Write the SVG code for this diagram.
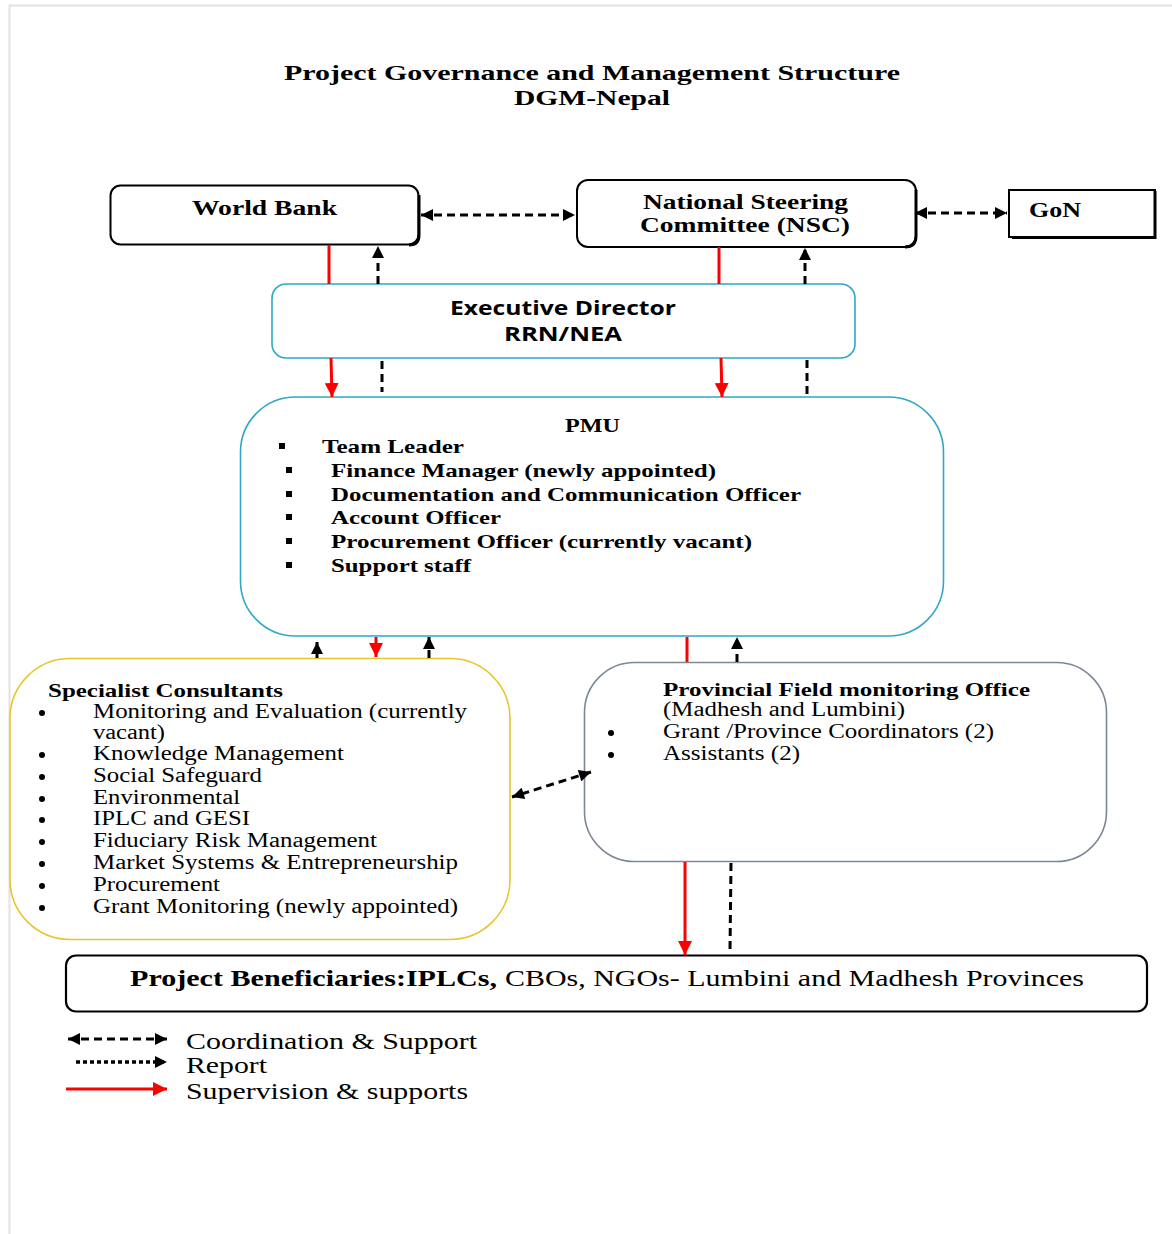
<svg xmlns="http://www.w3.org/2000/svg" width="1172" height="1234" viewBox="0 0 1172 1234">
<style>
.serif{font-family:"Liberation Serif","Times New Roman",serif;fill:#000}
.sans{font-family:"Open Sans","Liberation Sans",sans-serif;fill:#000}
.b{font-weight:bold}
.box{fill:#fff}
.red{stroke:#ff0000;stroke-width:3;fill:none}
.dash{stroke:#000;stroke-width:3;fill:none;stroke-dasharray:8 5}
.dot{stroke:#000;stroke-width:3.5;fill:none;stroke-dasharray:4 3}
</style>
<defs>
<marker id="ak" viewBox="0 0 10 10" refX="10" refY="5" markerWidth="13" markerHeight="12" markerUnits="userSpaceOnUse" orient="auto-start-reverse"><path d="M0,0 L10,5 L0,10 z" fill="#000"/></marker>
<marker id="ar" viewBox="0 0 10 10" refX="10" refY="5" markerWidth="14" markerHeight="14" markerUnits="userSpaceOnUse" orient="auto-start-reverse"><path d="M0,0 L10,5 L0,10 z" fill="#ff0000"/></marker>
</defs>
<rect width="1172" height="1234" fill="#fff"/>
<path d="M9.5,1234 V5.5 H1172" fill="none" stroke="#e2e2e2" stroke-width="2"/>

<g id="title">
<text class="serif b" x="284" y="80" font-size="22" textLength="616" lengthAdjust="spacingAndGlyphs">Project Governance and Management Structure</text>
<text class="serif b" x="514" y="105" font-size="22" textLength="156" lengthAdjust="spacingAndGlyphs">DGM-Nepal</text>
</g>

<g id="world-bank">
<rect class="box" x="110.5" y="185.5" width="308" height="59" rx="10" stroke="#000" stroke-width="2"/>
<path d="M409,245 Q419,245 419,235 V195" fill="none" stroke="#000" stroke-width="3"/>
<text class="serif b" x="192" y="215" font-size="21" textLength="145" lengthAdjust="spacingAndGlyphs">World Bank</text>
</g>

<g id="nsc">
<rect class="box" x="577" y="180" width="339" height="67" rx="11" stroke="#000" stroke-width="2"/>
<path d="M905,247 Q916,247 916,236 V190" fill="none" stroke="#000" stroke-width="3"/>
<text class="serif b" x="643" y="209" font-size="21" textLength="205" lengthAdjust="spacingAndGlyphs">National Steering</text>
<text class="serif b" x="640" y="232" font-size="21" textLength="210" lengthAdjust="spacingAndGlyphs">Committee (NSC)</text>
</g>

<g id="gon">
<rect class="box" x="1009" y="190" width="146" height="47" stroke="#000" stroke-width="2"/>
<path d="M1155,191 V237.5 H1012" fill="none" stroke="#000" stroke-width="3"/>
<text class="serif b" x="1029" y="217" font-size="21" textLength="52" lengthAdjust="spacingAndGlyphs">GoN</text>
</g>

<g id="executive-director">
<rect class="box" x="272" y="284" width="583" height="74" rx="14" stroke="#2ea8c6" stroke-width="1.6"/>
<text class="sans b" x="450" y="315" font-size="20" textLength="226" lengthAdjust="spacingAndGlyphs">Executive Director</text>
<text class="sans b" x="504" y="341" font-size="20" textLength="118" lengthAdjust="spacingAndGlyphs">RRN/NEA</text>
</g>

<g id="pmu">
<rect class="box" x="240.5" y="397" width="703" height="239" rx="55" stroke="#2ea8c6" stroke-width="1.6"/>
<text class="serif b" x="565" y="432" font-size="19" textLength="55" lengthAdjust="spacingAndGlyphs">PMU</text>
<rect x="279" y="443" width="6" height="6" fill="#000"/>
<rect x="286" y="467" width="6" height="6" fill="#000"/>
<rect x="286" y="491" width="6" height="6" fill="#000"/>
<rect x="286" y="514" width="6" height="6" fill="#000"/>
<rect x="286" y="538" width="6" height="6" fill="#000"/>
<rect x="286" y="562" width="6" height="6" fill="#000"/>
<text class="serif b" x="322" y="453" font-size="19" textLength="142" lengthAdjust="spacingAndGlyphs">Team Leader</text>
<text class="serif b" x="331" y="477" font-size="19" textLength="385" lengthAdjust="spacingAndGlyphs">Finance Manager (newly appointed)</text>
<text class="serif b" x="331" y="501" font-size="19" textLength="470" lengthAdjust="spacingAndGlyphs">Documentation and Communication Officer</text>
<text class="serif b" x="331" y="524" font-size="19" textLength="170" lengthAdjust="spacingAndGlyphs">Account Officer</text>
<text class="serif b" x="331" y="548" font-size="19" textLength="421" lengthAdjust="spacingAndGlyphs">Procurement Officer (currently vacant)</text>
<text class="serif b" x="331" y="572" font-size="19" textLength="140" lengthAdjust="spacingAndGlyphs">Support staff</text>
</g>

<g id="specialist-consultants">
<rect class="box" x="10" y="658.5" width="500" height="281" rx="60" stroke="#e8c52c" stroke-width="1.6"/>
<text class="serif b" x="48" y="697" font-size="19" textLength="235" lengthAdjust="spacingAndGlyphs">Specialist Consultants</text>
<g fill="#000">
<circle cx="42" cy="713" r="3"/><circle cx="42" cy="755" r="3"/><circle cx="42" cy="777" r="3"/><circle cx="42" cy="799" r="3"/><circle cx="42" cy="820" r="3"/><circle cx="42" cy="842" r="3"/><circle cx="42" cy="864" r="3"/><circle cx="42" cy="886" r="3"/><circle cx="42" cy="908" r="3"/>
</g>
<text class="serif" x="93" y="718" font-size="20" textLength="374" lengthAdjust="spacingAndGlyphs">Monitoring and Evaluation (currently</text>
<text class="serif" x="93" y="739" font-size="20" textLength="72" lengthAdjust="spacingAndGlyphs">vacant)</text>
<text class="serif" x="93" y="760" font-size="20" textLength="251" lengthAdjust="spacingAndGlyphs">Knowledge Management</text>
<text class="serif" x="93" y="782" font-size="20" textLength="169" lengthAdjust="spacingAndGlyphs">Social Safeguard</text>
<text class="serif" x="93" y="804" font-size="20" textLength="147" lengthAdjust="spacingAndGlyphs">Environmental</text>
<text class="serif" x="93" y="825" font-size="20" textLength="157" lengthAdjust="spacingAndGlyphs">IPLC and GESI</text>
<text class="serif" x="93" y="847" font-size="20" textLength="284" lengthAdjust="spacingAndGlyphs">Fiduciary Risk Management</text>
<text class="serif" x="93" y="869" font-size="20" textLength="365" lengthAdjust="spacingAndGlyphs">Market Systems &amp; Entrepreneurship</text>
<text class="serif" x="93" y="891" font-size="20" textLength="127" lengthAdjust="spacingAndGlyphs">Procurement</text>
<text class="serif" x="93" y="913" font-size="20" textLength="365" lengthAdjust="spacingAndGlyphs">Grant Monitoring (newly appointed)</text>
</g>

<g id="provincial-office">
<rect class="box" x="584.5" y="662.5" width="522" height="199" rx="50" stroke="#7d8896" stroke-width="1.6"/>
<text class="serif b" x="663" y="696" font-size="19" textLength="367" lengthAdjust="spacingAndGlyphs">Provincial Field monitoring Office</text>
<text class="serif" x="663" y="716" font-size="20" textLength="242" lengthAdjust="spacingAndGlyphs">(Madhesh and Lumbini)</text>
<circle cx="611" cy="733" r="3" fill="#000"/>
<circle cx="611" cy="755" r="3" fill="#000"/>
<text class="serif" x="663" y="738" font-size="20" textLength="331" lengthAdjust="spacingAndGlyphs">Grant /Province Coordinators (2)</text>
<text class="serif" x="663" y="760" font-size="20" textLength="137" lengthAdjust="spacingAndGlyphs">Assistants (2)</text>
</g>

<g id="beneficiaries">
<rect class="box" x="66" y="955.5" width="1081" height="56" rx="10" stroke="#000" stroke-width="2.2"/>
<text class="serif" y="986" font-size="23"><tspan class="b" x="130" textLength="367" lengthAdjust="spacingAndGlyphs">Project Beneficiaries:IPLCs,</tspan><tspan x="505" textLength="579" lengthAdjust="spacingAndGlyphs">CBOs, NGOs- Lumbini and Madhesh Provinces</tspan></text>
</g>

<g id="connectors">
<line class="dash" x1="421" y1="215" x2="575" y2="215" marker-start="url(#ak)" marker-end="url(#ak)"/>
<line class="dash" x1="915" y1="213" x2="1007" y2="213" marker-start="url(#ak)" marker-end="url(#ak)"/>
<line class="red" x1="329" y1="245" x2="329" y2="284"/>
<line class="dash" x1="378" y1="284" x2="378" y2="246" marker-end="url(#ak)"/>
<line class="red" x1="719" y1="247" x2="719" y2="284"/>
<line class="dash" x1="805" y1="284" x2="805" y2="248" marker-end="url(#ak)"/>
<line class="red" x1="331" y1="358" x2="332" y2="397" marker-end="url(#ar)"/>
<line class="dash" x1="382" y1="361" x2="382" y2="392"/>
<line class="red" x1="721" y1="358" x2="722" y2="397" marker-end="url(#ar)"/>
<line class="dash" x1="807" y1="360" x2="807" y2="396"/>
<line class="dash" x1="317" y1="658" x2="317" y2="642" marker-end="url(#ak)"/>
<line class="red" x1="376" y1="637" x2="376" y2="657" marker-end="url(#ar)"/>
<line class="dash" x1="429" y1="658" x2="429" y2="637" marker-end="url(#ak)"/>
<line class="red" x1="687" y1="637" x2="687" y2="662"/>
<line class="dash" x1="737" y1="662" x2="737" y2="637" marker-end="url(#ak)"/>
<line class="dash" x1="591" y1="772" x2="512" y2="797" marker-start="url(#ak)" marker-end="url(#ak)"/>
<line class="red" x1="685" y1="862" x2="685" y2="955" marker-end="url(#ar)"/>
<line class="dash" x1="731" y1="863" x2="730" y2="950"/>
</g>

<g id="legend">
<line class="dash" x1="68" y1="1039" x2="167" y2="1039" marker-start="url(#ak)" marker-end="url(#ak)"/>
<line class="dot" x1="76" y1="1062" x2="167" y2="1062" marker-end="url(#ak)"/>
<line class="red" x1="66" y1="1089" x2="167" y2="1089" marker-end="url(#ar)"/>
<text class="serif" x="186" y="1049" font-size="23" textLength="291" lengthAdjust="spacingAndGlyphs">Coordination &amp; Support</text>
<text class="serif" x="186" y="1073" font-size="23" textLength="81" lengthAdjust="spacingAndGlyphs">Report</text>
<text class="serif" x="186" y="1099" font-size="23" textLength="282" lengthAdjust="spacingAndGlyphs">Supervision &amp; supports</text>
</g>
</svg>
